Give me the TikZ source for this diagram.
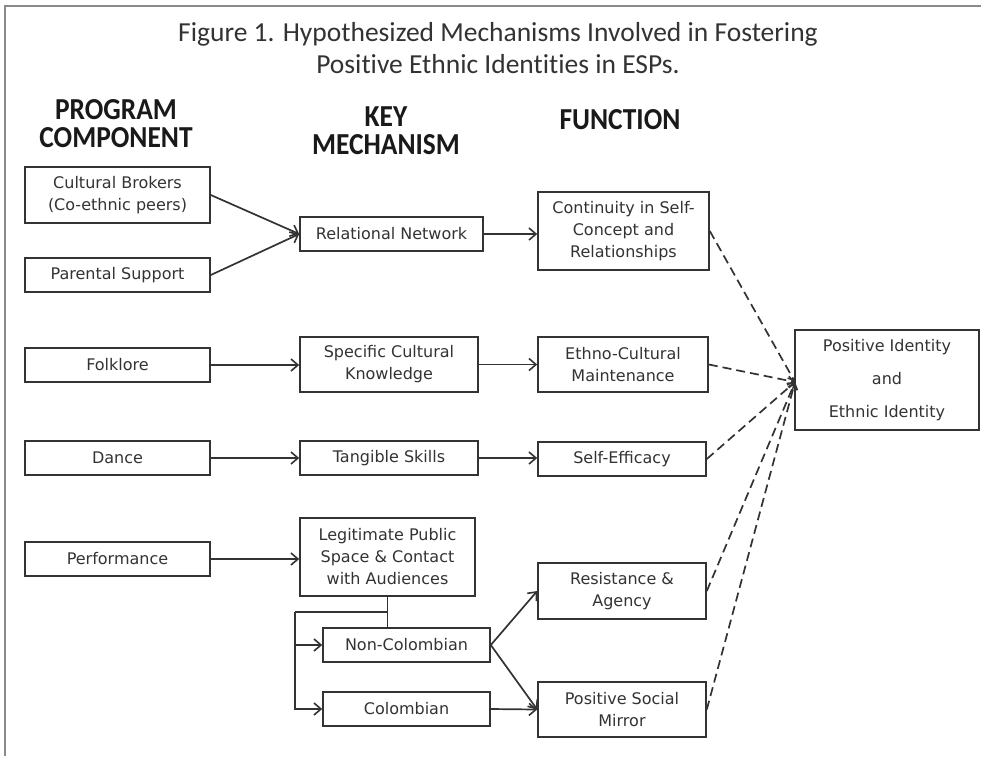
\documentclass[tikz,border=0pt]{standalone}
\usepackage{fontspec}
\setmainfont{DejaVu Sans}
\newfontfamily\titlefont[Ligatures=NoCommon]{Carlito}
\newfontfamily\hdfont[FakeStretch=0.9]{Carlito Bold}
\usetikzlibrary{arrows.meta}
\definecolor{ink}{HTML}{333333}
\definecolor{framec}{HTML}{8A8A8A}
\begin{document}
\begin{tikzpicture}[x=1pt,y=-1pt,
  bx/.style={draw=ink, line width=1.6pt, inner sep=0pt, align=center, text=ink,
             font=\fontsize{16}{22}\selectfont},
  arr/.style={draw=ink, line width=1.7pt, -{Straight Barb[length=7pt,width=12pt,line width=1.6pt]}},
  ln/.style={draw=ink, line width=1.7pt},
  dsh/.style={draw=ink, line width=1.7pt, dash pattern=on 9pt off 5pt,
              -{Straight Barb[length=6pt,width=9pt,line width=1.4pt]}},
  ttl/.style={font=\titlefont\fontsize{27.5}{32}\selectfont, text=ink, align=center, anchor=base, inner sep=0pt},
  hd/.style={font=\hdfont\fontsize{30.5}{28}\selectfont, text=black!90, align=center, anchor=base, inner sep=0pt}]

\useasboundingbox (0,0) rectangle (981,756);
\fill[white] (0,0) rectangle (981,756);
\draw[framec, line width=2pt] (5,756) -- (5,6) -- (981,6);

% title (base anchor = last line's baseline)
\node[ttl] (title) at (498,73) {Figure 1. Hypothesized Mechanisms Involved in Fostering\\Positive Ethnic Identities in ESPs.};

% headers
\node[hd] (h1) at (116,147) {PROGRAM\\COMPONENT};
\node[hd] (h2) at (386,154) {KEY\\MECHANISM};
\node[hd] (h3) at (620,129) {FUNCTION};

% column 1
\node[bx, minimum width=185, minimum height=56] (cb) at (117.5,195) {Cultural Brokers\\(Co-ethnic peers)};
\node[bx, minimum width=185, minimum height=34] (ps) at (117.5,275) {Parental Support};
\node[bx, minimum width=185, minimum height=34] (folk) at (117.5,365) {Folklore};
\node[bx, minimum width=185, minimum height=34] (dance) at (117.5,458) {Dance};
\node[bx, minimum width=185, minimum height=34] (perf) at (117.5,559) {Performance};

% column 2
\node[bx, minimum width=183, minimum height=34] (rn) at (391.5,234) {Relational Network};
\node[bx, minimum width=178, minimum height=55] (sck) at (389,364.5) {Specific Cultural\\Knowledge};
\node[bx, minimum width=178, minimum height=34] (ts) at (389,458) {Tangible Skills};
\node[bx, minimum width=175, minimum height=78] (lps) at (387.5,557) {Legitimate Public\\Space \& Contact\\with Audiences};
\node[bx, minimum width=167, minimum height=34] (nc) at (406.5,645) {Non-Colombian};
\node[bx, minimum width=167, minimum height=34] (col) at (406.5,709) {Colombian};

% column 3
\node[bx, minimum width=171, minimum height=78] (cont) at (623.5,231) {Continuity in Self-\\Concept and\\Relationships};
\node[bx, minimum width=170, minimum height=55] (ecm) at (623,364.5) {Ethno-Cultural\\Maintenance};
\node[bx, minimum width=168, minimum height=34] (se) at (622,459) {Self-Efficacy};
\node[bx, minimum width=168, minimum height=56] (ra) at (622,591) {Resistance \&\\Agency};
\node[bx, minimum width=168, minimum height=55] (psm) at (622,709.5) {Positive Social\\Mirror};

% outcome
\node[bx, minimum width=184, minimum height=100, font=\fontsize{16}{33}\selectfont] (pid) at (887,380) {Positive Identity\\and\\Ethnic Identity};

% solid connectors
\draw[arr] (cb.east) -- (rn.west);
\draw[arr] (ps.east) -- (rn.west);
\draw[arr] (rn.east) -- (rn.east -| cont.west);
\draw[arr] (folk.east) -- (folk.east -| sck.west);
\draw[arr] (sck.east) -- (sck.east -| ecm.west);
\draw[arr] (dance.east) -- (dance.east -| ts.west);
\draw[arr] (ts.east) -- (ts.east -| se.west);
\draw[arr] (perf.east) -- (perf.east -| lps.west);

\coordinate (j) at (387.5,612);
\coordinate (k) at (295,612);
\draw[ln] (lps.south) -- (lps.south |- nc.north);
\draw[ln] (j) -- (k);
\draw[arr] (k) |- (col.west);
\draw[arr] (k |- nc.west) -- (nc.west);

\draw[arr] (nc.east) -- (ra.west);
\draw[arr] (nc.east) -- (psm.west);
\draw[arr] (col.east) -- (psm.west);

% dashed connectors
\coordinate (pin) at (795,382);
\draw[dsh] (cont.east) -- (pin);
\draw[dsh] (ecm.east) -- (pin);
\draw[dsh] (se.east) -- (pin);
\draw[dsh] (ra.east) -- (pin);
\draw[dsh] (psm.east) -- (pin);
\end{tikzpicture}
\end{document}
